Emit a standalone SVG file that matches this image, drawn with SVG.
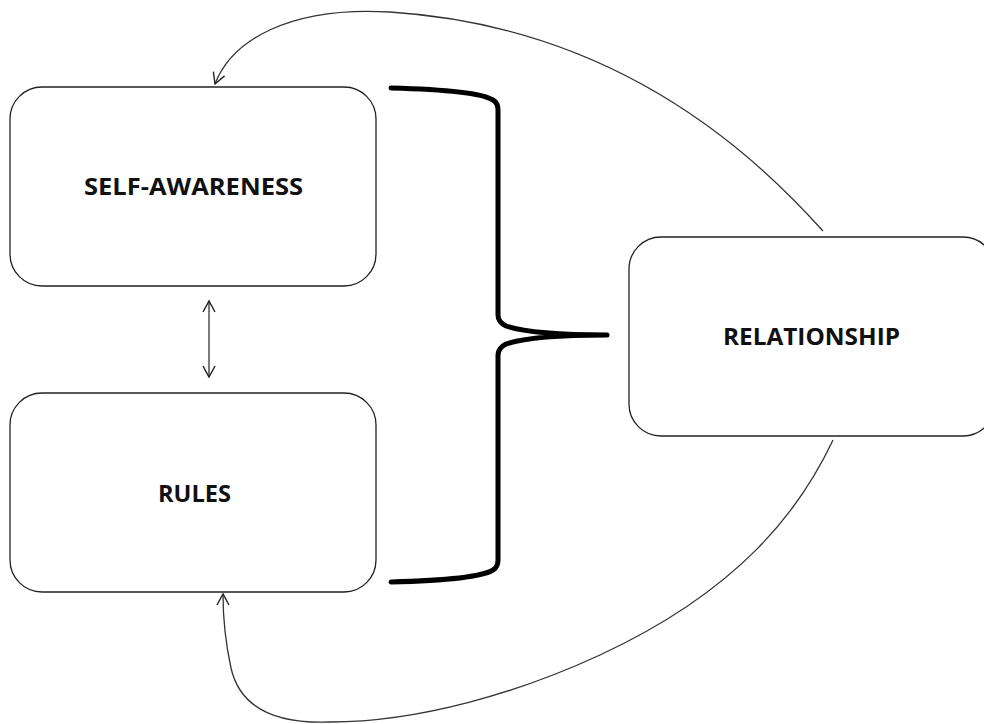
<svg xmlns="http://www.w3.org/2000/svg" width="984" height="724" viewBox="0 0 984 724">
<style>
.box{fill:#fff;stroke:#222;stroke-width:1.3}
.lbl{font-family:"Open Sans","Liberation Sans",sans-serif;font-weight:bold;font-size:24px;fill:#111;text-anchor:middle}
.con{fill:none;stroke:#333;stroke-width:1.3}
.brace{fill:none;stroke:#000;stroke-width:5;stroke-linecap:round;stroke-linejoin:round}
</style>
<defs>
<marker id="ah" viewBox="-12 -8 14 16" markerWidth="14" markerHeight="16" refX="0" refY="0" orient="auto-start-reverse" markerUnits="userSpaceOnUse">
<path d="M -11 -6 L 0 0 L -11 6" fill="none" stroke="#222" stroke-width="1.4"/>
</marker>
</defs>
<rect width="984" height="724" fill="#fff"/>
<g id="self-awareness">
<rect class="box" x="10" y="87" width="366" height="199" rx="32"/>
<text class="lbl" x="193.5" y="195" textLength="219" lengthAdjust="spacingAndGlyphs">SELF-AWARENESS</text>
</g>
<g id="rules">
<rect class="box" x="10" y="393" width="366" height="199" rx="32"/>
<text class="lbl" x="194.5" y="502" textLength="73" lengthAdjust="spacingAndGlyphs">RULES</text>
</g>
<g id="relationship">
<rect class="box" x="629" y="237" width="366" height="199" rx="32"/>
<text class="lbl" x="811.5" y="345" textLength="177" lengthAdjust="spacingAndGlyphs">RELATIONSHIP</text>
</g>
<g id="connectors">
<path class="brace" d="M 391 88 C 430 89, 480 92, 493 100 Q 498 103, 498 110 L 498 315 Q 498 322, 506 326 C 530 334, 570 335, 607 335 C 570 335, 530 336, 506 344 Q 498 348, 498 355 L 498 560 Q 498 567, 493 570 C 480 578, 430 581, 391 582"/>
<line class="con" x1="209" y1="301" x2="209" y2="377" marker-start="url(#ah)" marker-end="url(#ah)"/>
<path class="con" d="M 823 231 C 715 110, 575 24, 390 12 C 290 6, 232 40, 215 84" marker-end="url(#ah)"/>
<path class="con" d="M 833 440 C 800 510, 740 590, 600 655 C 520 692, 420 722, 330 722 C 275 724, 240 708, 231 668 C 226 645, 223 620, 223 594" marker-end="url(#ah)"/>
</g>
</svg>
